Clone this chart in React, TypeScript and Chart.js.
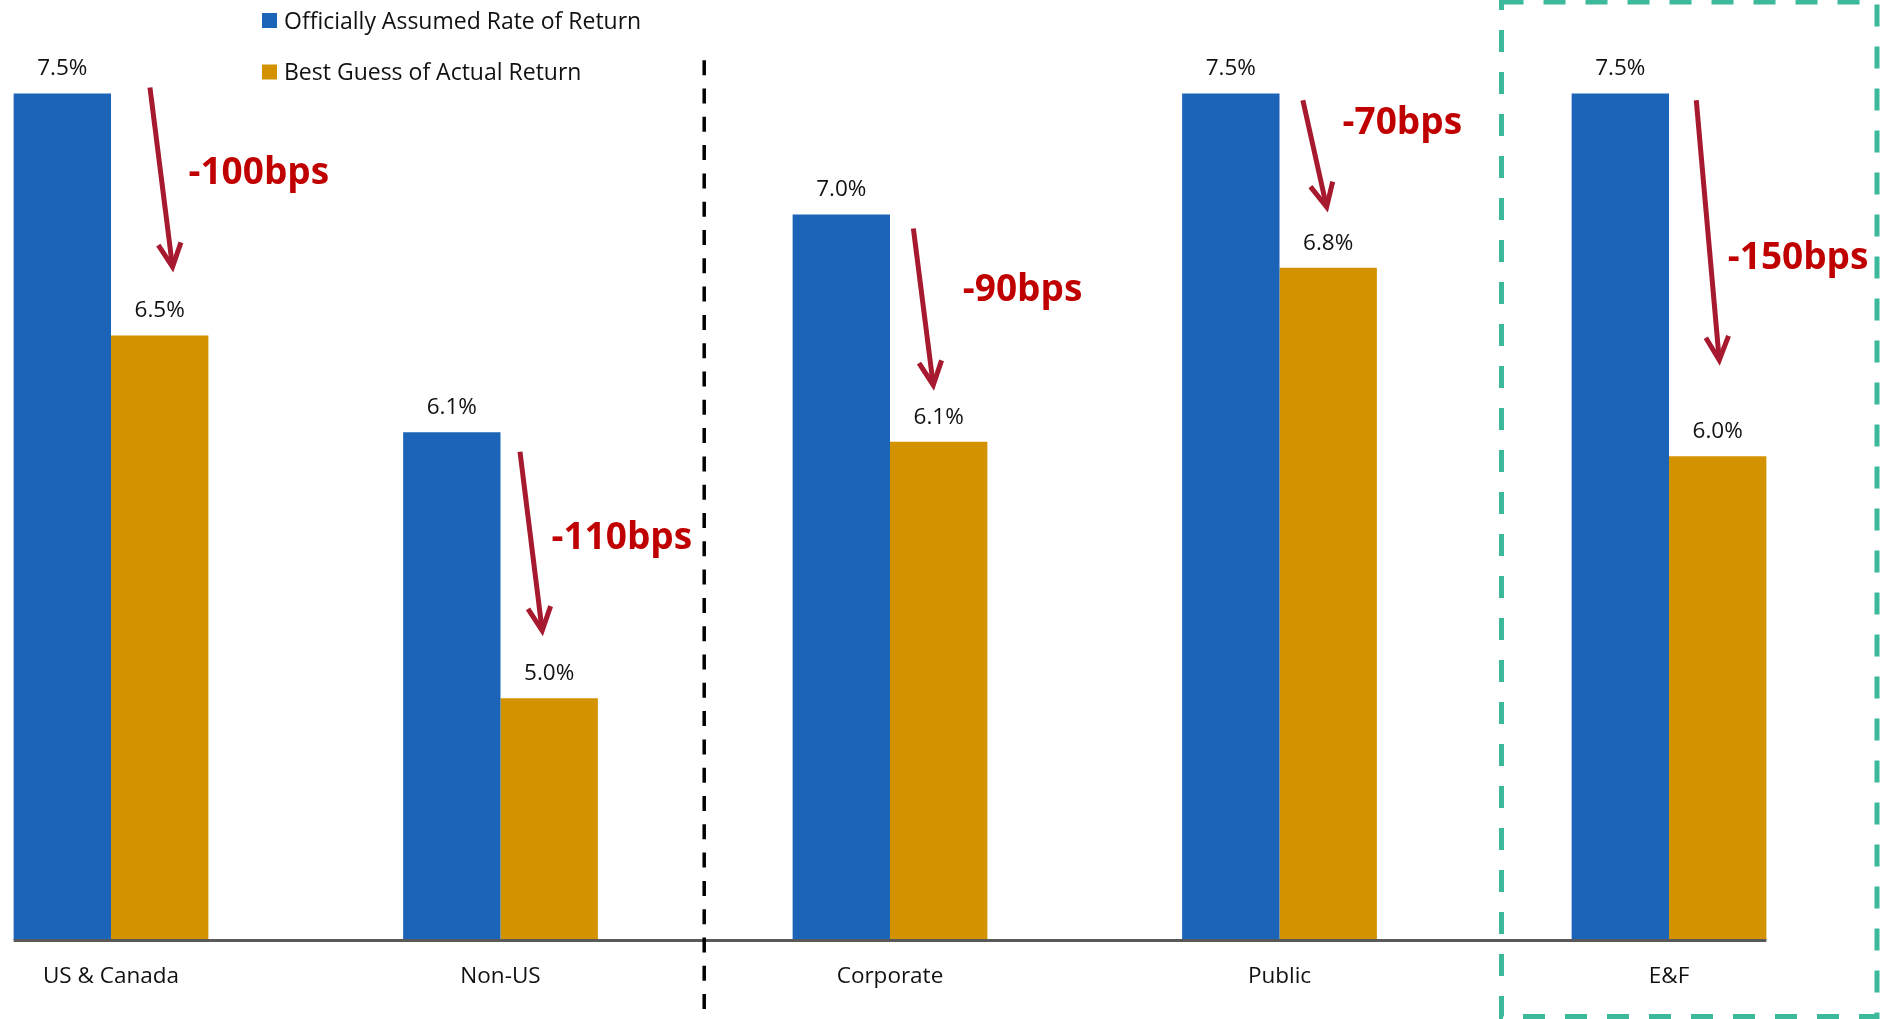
import React, { useEffect, useRef } from "react";
import { Chart, registerables } from "chart.js";

Chart.register(...registerables);

// ---------- data ----------
const categories = ["US & Canada", "Non-US", "Corporate", "Public", "E&F"];
const seriesNames = ["Officially Assumed Rate of Return", "Best Guess of Actual Return"];
const officialReturn = [7.5, 6.1, 7.0, 7.5, 7.5];
const actualReturn = [6.5, 5.0, 6.06, 6.78, 6.0];
const officialLabels = ["7.5%", "6.1%", "7.0%", "7.5%", "7.5%"];
const actualLabels = ["6.5%", "5.0%", "6.1%", "6.8%", "6.0%"];
const gapLabels = ["-100bps", "-110bps", "-90bps", "-70bps", "-150bps"];

// annotation anchors in data space (x: offset from category centre in category widths, y: % value)
const arrowStartDx = [0.1, 0.05, 0.06, 0.06, 0.07];
const arrowStartY = [7.525, 6.019, 6.942, 7.472, 7.472];
const arrowEndDx = [0.158, 0.107, 0.111, 0.121, 0.129];
const arrowEndY = [6.783, 5.279, 6.295, 7.031, 6.398];
const gapLabelDx = [0.199, 0.131, 0.187, 0.162, 0.151];
const gapLabelY = [7.176, 5.668, 6.694, 7.383, 6.825];

const yMin = 4.0;
const yMax = 7.8;
const separatorX = 1.523; // category units
const separatorTopY = 7.638;
const highlightLeftX = 3.57;
const highlightRightX = 4.534;

// ---------- styles ----------
const BLUE = "#1C64B8";
const ORANGE = "#D39200";
const ARROW = "#A6192E";
const GAP_TEXT = "#C00000";
const TEXT = "#111111";
const FONT = "'Open Sans', 'Noto Sans', sans-serif";

const annotate = {
  id: "annotate",
  afterDatasetsDraw(chart: any) {
    const ctx = chart.ctx as CanvasRenderingContext2D;
    const xs = chart.scales.x;
    const ys = chart.scales.y;
    const x0 = xs.getPixelForValue(0);
    const catW = xs.getPixelForValue(1) - x0;
    const px = (v: number) => x0 + v * catW;

    ctx.save();

    // axis line spanning bars
    const m0 = chart.getDatasetMeta(0);
    const m1 = chart.getDatasetMeta(1);
    const first = m0.data[0];
    const last = m1.data[m1.data.length - 1];
    const left = first.x - first.width / 2;
    const right = last.x + last.width / 2;
    ctx.strokeStyle = "#595959";
    ctx.lineWidth = 3;
    ctx.beginPath();
    ctx.moveTo(left, ys.bottom + 0.5);
    ctx.lineTo(right, ys.bottom + 0.5);
    ctx.stroke();

    // value labels
    ctx.fillStyle = TEXT;
    ctx.font = `22.5px ${FONT}`;
    ctx.textAlign = "center";
    ctx.textBaseline = "middle";
    [m0, m1].forEach((meta: any, di: number) => {
      const labels = di === 0 ? officialLabels : actualLabels;
      meta.data.forEach((bar: any, i: number) => {
        ctx.fillText(labels[i], bar.x, bar.y - 24.5);
      });
    });

    // separator
    ctx.strokeStyle = "#000";
    ctx.lineWidth = 3.5;
    ctx.setLineDash([15, 13.3]);
    ctx.beginPath();
    const sx = px(separatorX);
    ctx.moveTo(sx, ys.getPixelForValue(separatorTopY));
    ctx.lineTo(sx, chart.height);
    ctx.stroke();

    // highlight box
    ctx.strokeStyle = "#3CB89A";
    ctx.lineWidth = 5;
    ctx.setLineDash([22, 20]);
    const hx = px(highlightLeftX);
    const hw = px(highlightRightX) - hx;
    ctx.strokeRect(hx, 2, hw, chart.height - 4.5);
    ctx.setLineDash([]);

    // arrows + gap labels
    ctx.strokeStyle = ARROW;
    ctx.lineWidth = 5;
    ctx.lineJoin = "miter";
    ctx.lineCap = "butt";
    for (let i = 0; i < gapLabels.length; i++) {
      const ax = px(i + arrowStartDx[i]);
      const ay = ys.getPixelForValue(arrowStartY[i]);
      const bx = px(i + arrowEndDx[i]);
      const by = ys.getPixelForValue(arrowEndY[i]);
      const ang = Math.atan2(by - ay, bx - ax);
      const head = 26;
      const spread = (26 * Math.PI) / 180;
      ctx.beginPath();
      ctx.moveTo(ax, ay);
      ctx.lineTo(bx, by);
      ctx.stroke();
      ctx.beginPath();
      ctx.moveTo(bx - head * Math.cos(ang - spread), by - head * Math.sin(ang - spread));
      ctx.lineTo(bx, by);
      ctx.lineTo(bx - head * Math.cos(ang + spread), by - head * Math.sin(ang + spread));
      ctx.stroke();

      ctx.fillStyle = GAP_TEXT;
      ctx.font = `bold 37px ${FONT}`;
      ctx.textAlign = "left";
      ctx.textBaseline = "middle";
      ctx.fillText(gapLabels[i], px(i + gapLabelDx[i]), ys.getPixelForValue(gapLabelY[i]) + 1.5);
    }

    // legend
    const legendColors = [BLUE, ORANGE];
    const legendY = [20.5, 72];
    ctx.font = `23px ${FONT}`;
    ctx.textAlign = "left";
    ctx.textBaseline = "middle";
    for (let i = 0; i < seriesNames.length; i++) {
      ctx.fillStyle = legendColors[i];
      ctx.fillRect(262, legendY[i] - 7.5, 15, 15);
      ctx.fillStyle = TEXT;
      ctx.fillText(seriesNames[i], 284, legendY[i] + 1.5);
    }

    ctx.restore();
  },
};

export default function App() {
  const ref = useRef<HTMLCanvasElement | null>(null);

  useEffect(() => {
    if (!ref.current) return;
    const clip = { left: false, right: false, top: false, bottom: 0 };
    const chart = new Chart(ref.current, {
      type: "bar",
      data: {
        labels: categories,
        datasets: [
          {
            label: seriesNames[0],
            data: officialReturn,
            backgroundColor: BLUE,
            borderWidth: 0,
            categoryPercentage: 0.5,
            barPercentage: 1,
            base: yMin,
            clip,
          },
          {
            label: seriesNames[1],
            data: actualReturn,
            backgroundColor: ORANGE,
            borderWidth: 0,
            categoryPercentage: 0.5,
            barPercentage: 1,
            base: yMin,
            clip,
          },
        ],
      },
      options: {
        animation: false,
        responsive: false,
        devicePixelRatio: 1,
        layout: { padding: { left: 111, right: 215, top: 21, bottom: 0 } },
        plugins: { legend: { display: false }, tooltip: { enabled: false } },
        scales: {
          x: {
            offset: false,
            grid: { display: false, drawTicks: false },
            border: { display: false },
            ticks: {
              font: { family: FONT, size: 22.5 },
              color: TEXT,
              padding: 23,
              maxRotation: 0,
              autoSkip: false,
            },
            afterFit: (s: any) => {
              s.height = 79;
            },
          },
          y: { display: false, min: yMin, max: yMax },
        },
      },
      plugins: [annotate],
    } as any);
    return () => chart.destroy();
  }, []);

  return (
    <div style={{ position: "absolute", left: 0, top: 0, width: 1884, height: 1019, background: "#fff" }}>
      <canvas ref={ref} width={1884} height={1019} style={{ display: "block" }} />
    </div>
  );
}
